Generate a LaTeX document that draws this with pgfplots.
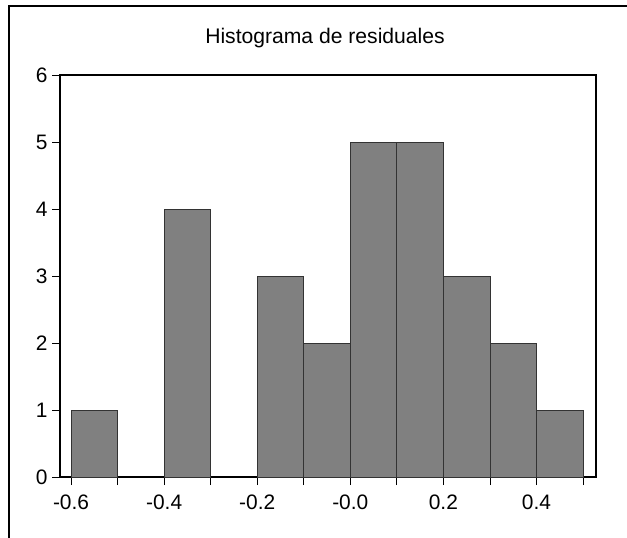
\documentclass[border=0pt]{standalone}
\usepackage{fontspec}
\setmainfont{Liberation Sans}
\usepackage{pgfplots}
\pgfplotsset{compat=1.18}
\definecolor{bargray}{RGB}{128,128,128}
\newcommand{\tk}{\fontsize{21}{24}\selectfont}
\begin{document}
\begin{tikzpicture}[x=1bp,y=1bp]
\useasboundingbox (0,0) rectangle (627,-538);
\draw[line width=1.2bp] (9,-538) -- (9,-6) -- (627,-6);
\node[font=\fontsize{21.2}{25}\selectfont] at (325,-38) {Histograma de residuales};
\begin{axis}[at={(60bp,-477bp)}, anchor=south west,
  width=536bp, height=402bp, scale only axis,
  xmin=-0.6237, xmax=0.528, ymin=0, ymax=6,
  ytick={0,1,2,3,4,5,6}, yticklabels={\tk 0,\tk 1,\tk 2,\tk 3,\tk 4,\tk 5,\tk 6},
  xtick={-0.6,-0.5,-0.4,-0.3,-0.2,-0.1,0,0.1,0.2,0.3,0.4,0.5},
  xticklabels={\tk -0.6,,\tk -0.4,,\tk -0.2,,\tk -0.0,,\tk 0.2,,\tk 0.4,},
  xtick pos=bottom, ytick pos=left, tick align=outside,
  major tick length=8bp,
  tick style={black, line width=0.8bp},
  axis line style={black, line width=1.2bp},
  xticklabel style={yshift=-6bp},
  yticklabel style={xshift=-1bp},
]
\addplot[ybar interval, fill=bargray, draw=black!80, line width=0.7bp] coordinates {
(-0.6,1) (-0.5,1)};
\addplot[ybar interval, fill=bargray, draw=black!80, line width=0.7bp] coordinates {
(-0.4,4) (-0.3,4)};
\addplot[ybar interval, fill=bargray, draw=black!80, line width=0.7bp] coordinates {
(-0.2,3) (-0.1,2) (0,5) (0.1,5) (0.2,3) (0.3,2) (0.4,1) (0.5,1)};
\end{axis}
\end{tikzpicture}
\end{document}
